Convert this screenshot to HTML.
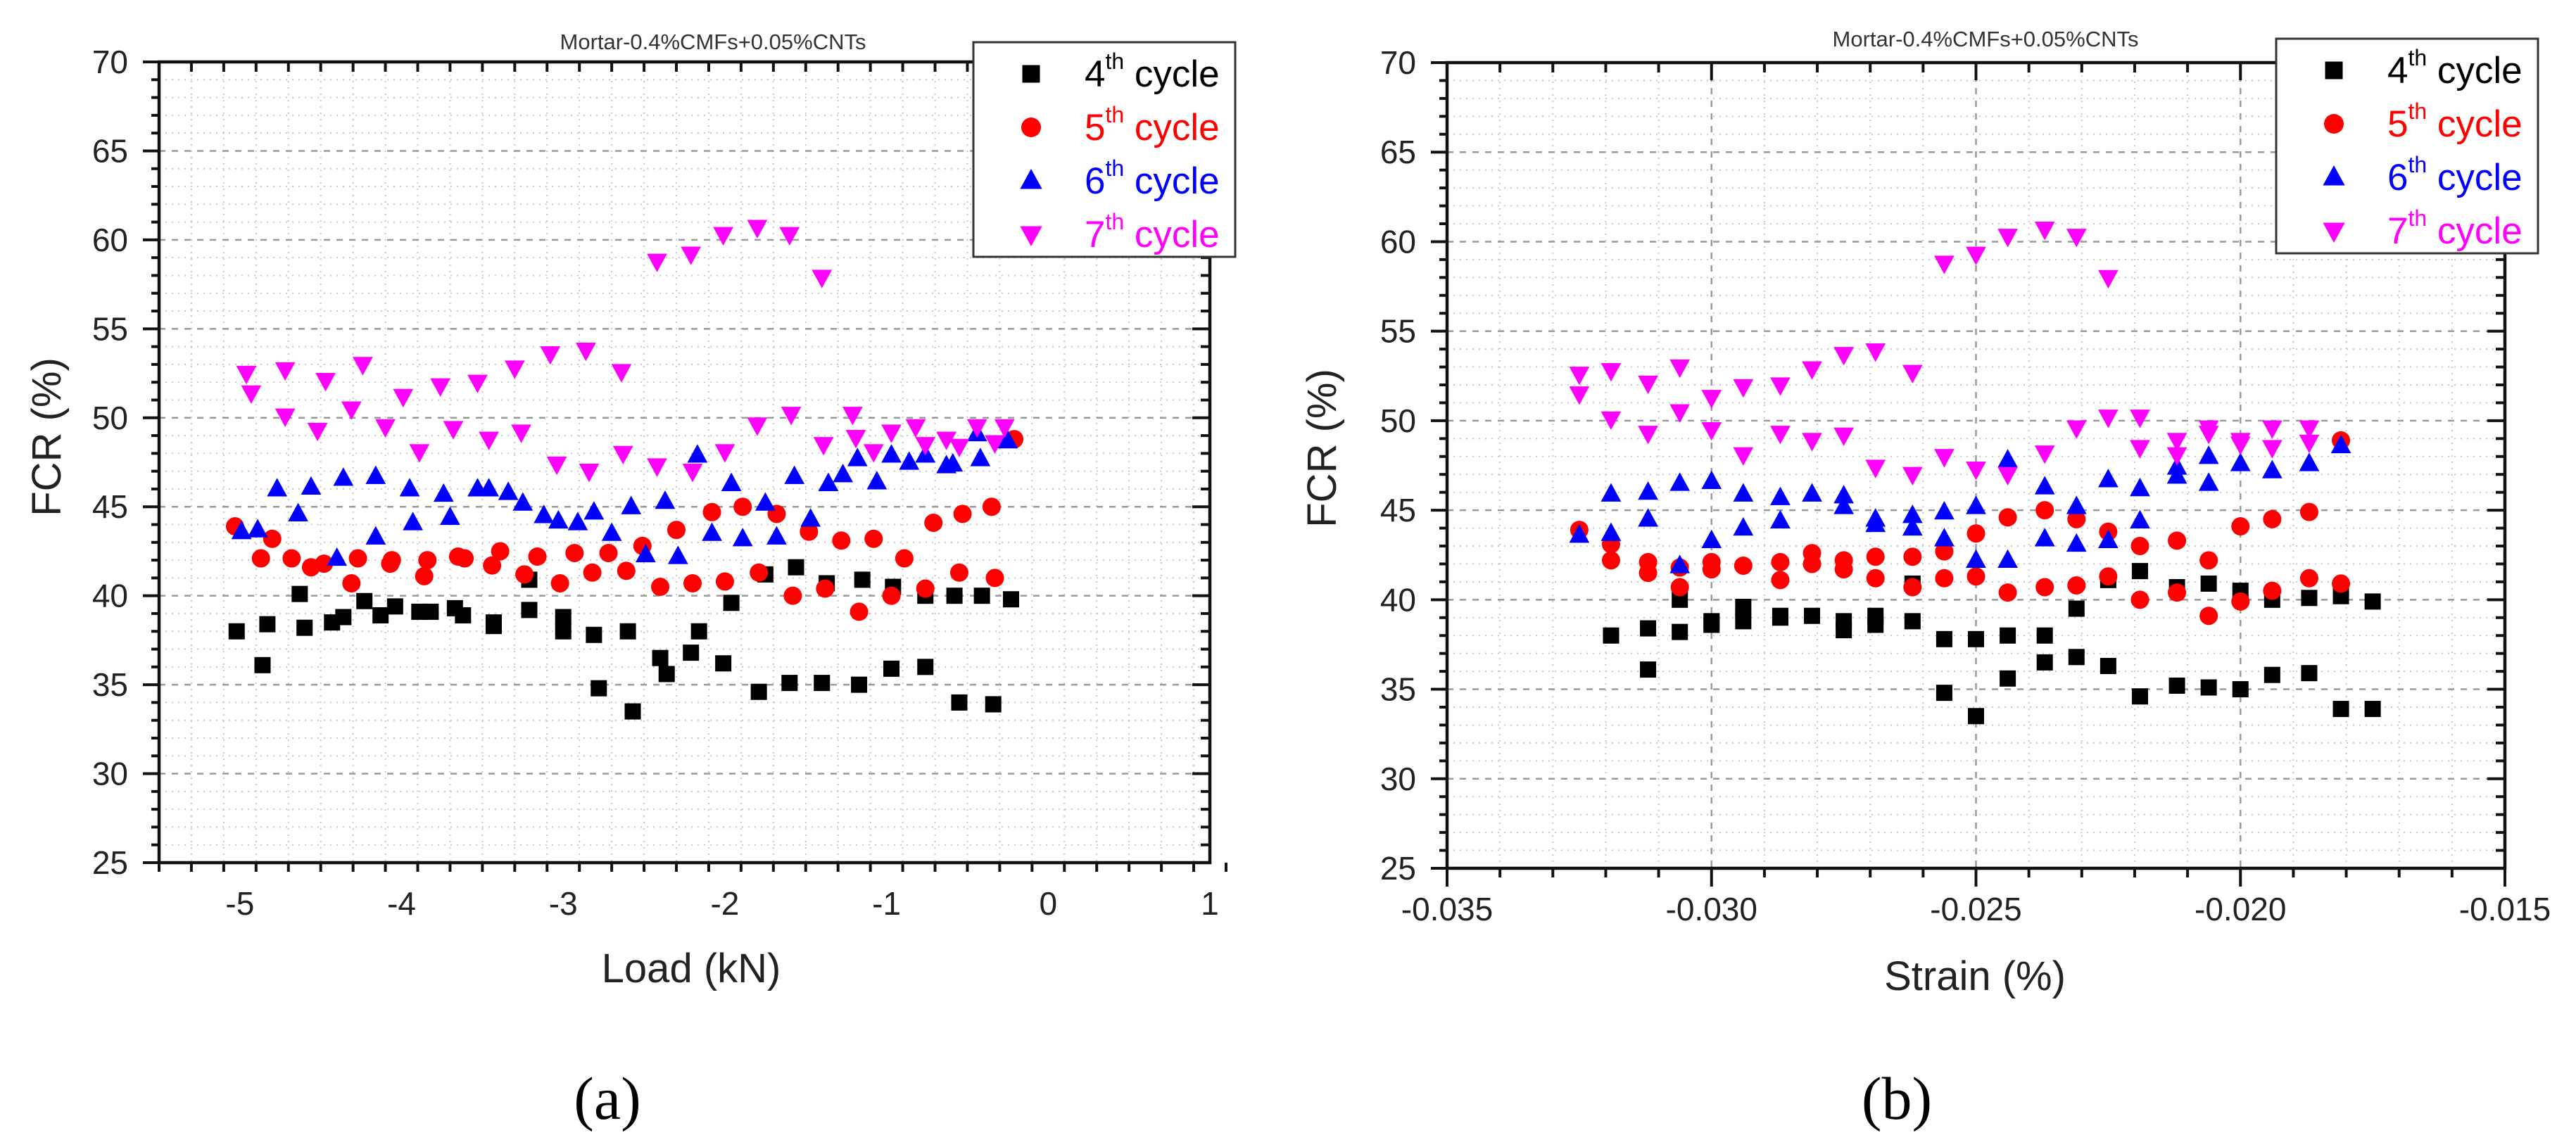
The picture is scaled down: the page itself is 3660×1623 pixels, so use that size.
<!DOCTYPE html>
<html><head><meta charset="utf-8">
<style>
html,body{margin:0;padding:0;background:#fff;}
svg{display:block;font-family:"Liberation Sans",sans-serif;}
</style></head>
<body>
<svg id="fig" width="3660" height="1623" viewBox="0 0 3660 1623" xmlns="http://www.w3.org/2000/svg">
<rect width="3660" height="1623" fill="#fff"/>
<g id="chartA"></g>
<g id="chartB"></g>
</svg>
<script>
// ---------- Chart (a): FCR vs Load ----------
const loadTicks = [-5, -4, -3, -2, -1, 0, 1];
const loadTickLabels = ["-5", "-4", "-3", "-2", "-1", "0", "1"];
const fcrTicks = [25, 30, 35, 40, 45, 50, 55, 60, 65, 70];
const fcrTickLabels = ["25", "30", "35", "40", "45", "50", "55", "60", "65", "70"];

const a4Load = [-5.02,-4.86,-4.83,-4.63,-4.60,-4.43,-4.36,-4.23,-4.13,-4.04,-3.89,-3.82,-3.67,-3.62,-3.43,-3.43,-3.21,-3.21,-3.00,-3.00,-2.81,-2.78,-2.60,-2.57,-2.40,-2.36,-2.21,-2.16,-2.01,-1.96,-1.79,-1.75,-1.60,-1.56,-1.40,-1.37,-1.17,-1.15,-0.97,-0.96,-0.76,-0.76,-0.58,-0.55,-0.41,-0.34,-0.23];
const a4Fcr = [38.0,36.1,38.4,40.1,38.2,38.5,38.8,39.7,38.9,39.4,39.1,39.1,39.3,38.9,38.5,38.3,39.2,40.9,38.8,38.0,37.8,34.8,38.0,33.5,36.5,35.6,36.8,38.0,36.2,39.6,34.6,41.2,35.1,41.6,35.1,40.7,35.0,40.9,35.9,40.5,36.0,40.0,40.0,34.0,40.0,33.9,39.8];
const a5Load = [-5.03,-4.87,-4.80,-4.68,-4.56,-4.48,-4.31,-4.27,-4.07,-4.06,-3.86,-3.84,-3.65,-3.61,-3.44,-3.39,-3.24,-3.16,-3.02,-2.93,-2.82,-2.72,-2.61,-2.51,-2.40,-2.30,-2.20,-2.08,-2.00,-1.89,-1.79,-1.68,-1.58,-1.48,-1.38,-1.28,-1.17,-1.08,-0.97,-0.89,-0.76,-0.71,-0.55,-0.53,-0.35,-0.33,-0.21];
const a5Fcr = [43.9,42.1,43.2,42.1,41.6,41.8,40.7,42.1,41.8,42.0,41.1,42.0,42.2,42.1,41.7,42.5,41.2,42.2,40.7,42.4,41.3,42.4,41.4,42.8,40.5,43.7,40.7,44.7,40.8,45.0,41.3,44.6,40.0,43.6,40.4,43.1,39.1,43.2,40.0,42.1,40.4,44.1,41.3,44.6,45.0,41.0,48.8];
const a6Load = [-4.99,-4.89,-4.77,-4.64,-4.56,-4.40,-4.36,-4.16,-4.16,-3.95,-3.93,-3.74,-3.70,-3.53,-3.46,-3.34,-3.25,-3.12,-3.03,-2.91,-2.81,-2.70,-2.58,-2.49,-2.37,-2.29,-2.17,-2.08,-1.96,-1.89,-1.75,-1.68,-1.57,-1.47,-1.36,-1.27,-1.18,-1.06,-0.97,-0.86,-0.76,-0.63,-0.59,-0.44,-0.42,-0.25];
const a6Fcr = [43.6,43.7,46.0,44.6,46.1,42.1,46.6,46.7,43.3,46.0,44.1,45.7,44.4,46.0,46.0,45.8,45.2,44.5,44.2,44.1,44.7,43.5,45.0,42.3,45.3,42.2,47.9,43.5,46.3,43.2,45.2,43.3,46.7,44.3,46.3,46.8,47.7,46.4,47.9,47.5,47.9,47.3,47.4,49.1,47.7,48.7];
const a7Load = [-4.96,-4.93,-4.72,-4.72,-4.52,-4.47,-4.31,-4.24,-4.10,-3.99,-3.89,-3.76,-3.68,-3.53,-3.46,-3.30,-3.26,-3.08,-3.04,-2.86,-2.84,-2.64,-2.63,-2.42,-2.42,-2.21,-2.20,-2.01,-2.00,-1.80,-1.80,-1.60,-1.59,-1.40,-1.39,-1.21,-1.19,-1.08,-0.97,-0.82,-0.76,-0.63,-0.55,-0.44,-0.33,-0.27];
const a7Fcr = [52.5,51.4,52.7,50.1,49.3,52.1,50.5,53.0,49.5,51.2,48.1,51.8,49.4,52.0,48.8,52.8,49.2,53.6,47.4,53.8,47.0,52.6,48.0,47.3,58.8,59.2,47.0,60.3,48.1,60.7,49.6,60.3,50.2,57.9,48.5,50.2,48.9,48.1,49.2,49.5,48.5,48.8,48.4,49.5,48.6,49.5];

// ---------- Chart (b): FCR vs Strain ----------
const strainTicks = [-0.035, -0.030, -0.025, -0.020, -0.015];
const strainTickLabels = ["-0.035", "-0.030", "-0.025", "-0.020", "-0.015"];
const strainCols = [-0.0325,-0.0319,-0.0312,-0.0306,-0.0300,-0.0294,-0.0287,-0.0281,-0.0275,-0.0269,-0.0262,-0.0256,-0.0250,-0.0244,-0.0237,-0.0231,-0.0225,-0.0219,-0.0212,-0.0206,-0.0200,-0.0194,-0.0187,-0.0181,-0.0175];
const b4Col = [1,2,2,3,3,4,4,5,5,6,6,7,8,8,9,9,10,10,11,11,12,12,13,13,14,14,15,15,16,16,17,17,18,18,19,19,20,20,21,21,22,22,23,23,24,24];
const b4Fcr = [38.0,38.4,36.1,40.0,38.2,38.6,38.8,39.6,38.8,39.1,39.0,39.1,38.8,38.3,39.1,38.6,38.8,40.9,37.8,34.8,37.8,33.5,38.0,35.6,38.0,36.5,39.5,36.8,41.1,36.3,41.6,34.6,40.7,35.2,40.9,35.1,40.5,35.0,40.0,35.8,40.1,35.9,40.2,33.9,39.9,33.9];
const b5Col = [0,1,1,2,2,3,3,4,4,5,6,6,7,7,8,8,9,9,10,10,11,11,12,12,13,13,14,14,15,15,16,16,17,17,18,18,19,19,20,20,21,21,22,22,23,23];
const b5Fcr = [43.9,43.1,42.2,42.1,41.5,40.7,41.8,42.1,41.7,41.9,42.1,41.1,42.6,42.0,42.2,41.7,42.4,41.2,42.4,40.7,42.7,41.2,43.7,41.3,44.6,40.4,45.0,40.7,44.5,40.8,43.8,41.3,43.0,40.0,43.3,40.4,42.2,39.1,44.1,39.9,44.5,40.5,44.9,41.2,48.9,40.9];
const b6Col = [0,1,1,2,2,3,3,4,4,5,5,6,6,7,8,8,9,9,10,10,11,11,12,12,13,13,14,14,15,15,16,16,17,17,18,18,19,19,20,21,22,23];
const b6Fcr = [43.6,45.9,43.7,46.0,44.5,46.5,41.9,46.6,43.3,45.9,44.0,45.7,44.4,45.9,45.8,45.2,44.5,44.2,44.7,44.0,44.9,43.4,45.2,42.2,47.8,42.2,46.3,43.4,45.2,43.1,46.7,43.3,46.2,44.4,47.4,46.9,48.0,46.5,47.6,47.2,47.6,48.6];
const b7Col = [0,0,1,1,2,2,3,3,4,4,5,5,6,6,7,7,8,8,9,9,10,10,11,11,12,12,13,13,14,14,15,15,16,16,17,17,18,18,19,19,20,20,21,21,22,22];
const b7Fcr = [52.6,51.5,52.8,50.1,52.1,49.3,53.0,50.5,51.3,49.5,51.9,48.1,52.0,49.3,52.9,48.9,53.7,49.2,53.9,47.4,52.7,47.0,58.8,48.0,59.3,47.3,60.3,47.0,60.7,48.2,60.3,49.6,58.0,50.2,50.2,48.5,48.9,48.1,49.6,49.3,48.9,48.7,49.6,48.5,49.6,48.8];

const seriesNames = ["4", "5", "6", "7"];
const seriesColors = ["#000000", "#ff0000", "#0000ff", "#ff00ff"];

const NS = "http://www.w3.org/2000/svg";
function mk(parent, tag, attrs, text) {
  const e = document.createElementNS(NS, tag);
  for (const k in attrs) e.setAttribute(k, attrs[k]);
  if (text !== undefined) e.textContent = text;
  parent.appendChild(e);
  return e;
}

function marker(g, kind, cx, cy, color, s) {
  let e;
  if (kind === 0) {
    e = mk(g, "rect", {x: cx - s/2, y: cy - s/2, width: s, height: s, fill: color});
  } else if (kind === 1) {
    e = mk(g, "circle", {cx: cx, cy: cy, r: s/2 + 1.5, fill: color});
  } else if (kind === 2) {
    const w = s*1.25, h = s*1.1;
    e = mk(g, "polygon", {points: `${cx},${cy-h*0.62} ${cx-w/2},${cy+h*0.42} ${cx+w/2},${cy+h*0.42}`, fill: color});
  } else {
    const w = s*1.25, h = s*1.1;
    e = mk(g, "polygon", {points: `${cx},${cy+h*0.62} ${cx-w/2},${cy-h*0.42} ${cx+w/2},${cy-h*0.42}`, fill: color});
  }
  return e;
}

function drawChart(cfg) {
  const g = document.getElementById(cfg.id);
  const L = cfg.left, R = cfg.right, T = cfg.top, B = cfg.bottom;
  const xs = v => L + (v - cfg.xmin) / (cfg.xmax - cfg.xmin) * (R - L);
  const ys = v => T + (cfg.ymax - v) / (cfg.ymax - cfg.ymin) * (B - T);

  const grid = mk(g, "g", {});
  
  
  const nMinX = Math.round((cfg.xmax - cfg.xmin) / cfg.xminor);
  for (let i = 1; i < nMinX; i++) {
    const v = cfg.xmin + i * cfg.xminor;
    const isMaj = Math.abs(v / cfg.xmajor - Math.round(v / cfg.xmajor)) < 1e-6;
    const px = xs(v);
    mk(grid, "line", {x1: px, x2: px, y1: T, y2: B, stroke: isMaj ? "#9a9a9a" : "#c8c8c8", "stroke-width": isMaj ? 2.5 : 2, "stroke-dasharray": isMaj ? "9,9" : "2,7"});
  }
  for (let v = cfg.ymin + 1; v < cfg.ymax; v++) {
    const isMaj = v % 5 === 0;
    const py = ys(v);
    mk(grid, "line", {x1: L, x2: R, y1: py, y2: py, stroke: isMaj ? "#9a9a9a" : "#c8c8c8", "stroke-width": isMaj ? 2.5 : 2, "stroke-dasharray": isMaj ? "9,9" : "2,7"});
  }

  const tk = mk(g, "g", {stroke: "#111", "stroke-width": 4});
  
  
  for (let i = 0; i <= nMinX; i++) {
    const v = cfg.xmin + i * cfg.xminor;
    const isMaj = Math.abs(v / cfg.xmajor - Math.round(v / cfg.xmajor)) < 1e-6;
    const px = xs(v);
    mk(tk, "line", {x1: px, x2: px, y1: B, y2: B + (isMaj ? 26 : 13)});
    mk(tk, "line", {x1: px, x2: px, y1: T, y2: T + (isMaj ? 25 : 14)});
  }
  for (let v = cfg.ymin; v <= cfg.ymax; v++) {
    const isMaj = v % 5 === 0;
    const py = ys(v);
    mk(tk, "line", {x1: L - (isMaj ? 23 : 11), x2: L, y1: py, y2: py});
    mk(tk, "line", {x1: R - (isMaj ? 25 : 13), x2: R, y1: py, y2: py});
  }

  const fr = mk(g, "rect", {x: L, y: T, width: R - L, height: B - T, fill: "none", stroke: "#111", "stroke-width": 4.5});
  
  

  const xl = mk(g, "g", {"font-size": 46, fill: "#222", "text-anchor": "middle"});
  
  
  cfg.xticks.forEach((v, i) => {
    const t = mk(xl, "text", {x: xs(v), y: B + 74}, cfg.xlabels[i]);
    
    
  });
  const yl = mk(g, "g", {"font-size": 46, fill: "#222", "text-anchor": "end"});
  
  
  fcrTicks.forEach((v, i) => {
    const t = mk(yl, "text", {x: L - 44, y: ys(v) + 16}, fcrTickLabels[i]);
    
    
  });

  const xt = mk(g, "text", {x: cfg.xtitleX, y: cfg.xtitleY, "font-size": 58, fill: "#222", "text-anchor": "middle"}, cfg.xtitle);
  
  
  const yt = mk(g, "text", {x: 0, y: 0, "font-size": 58, fill: "#222", "text-anchor": "middle", transform: `translate(${cfg.ytitleX},${cfg.ytitleY}) rotate(-90)`}, "FCR (%)");
  
  
  const ct = mk(g, "text", {x: cfg.titleX, y: cfg.titleY, "font-size": 31, fill: "#333", "text-anchor": "middle"}, "Mortar-0.4%CMFs+0.05%CNTs");
  
  
  const pl = mk(g, "text", {x: cfg.panelX, y: cfg.panelY, "font-size": 86, fill: "#000", "text-anchor": "middle", "font-family": "Liberation Serif, serif"}, cfg.panel);
  
  

  cfg.series.forEach((s, si) => {
    const sg = mk(g, "g", {});
    
    
    s.x.forEach((xv, j) => {
      const m = marker(sg, si, xs(xv), ys(s.y[j]), seriesColors[si], 23);
      
      
    });
  });

  const lg = mk(g, "g", {});
  
  
  const lb = mk(lg, "rect", {x: cfg.legX, y: cfg.legY, width: 372, height: 305, fill: "#fff", stroke: "#333", "stroke-width": 3});
  
  
  seriesNames.forEach((n, i) => {
    const cy = cfg.legY + 45 + i * 76;
    const eg = mk(lg, "g", {});
    
    
    marker(eg, i, cfg.legX + 82, cy, seriesColors[i], 25);
    const t = mk(eg, "text", {x: cfg.legX + 158, y: cy + 18, "font-size": 53, fill: seriesColors[i]});
    mk(t, "tspan", {}, n);
    mk(t, "tspan", {"font-size": 32, dy: -25}, "th");
    mk(t, "tspan", {dy: 25}, " cycle");
  });
}

drawChart({
  id: "chartA", left: 226, right: 1719, top: 88, bottom: 1226,
  xmin: -5.5, xmax: 1, ymin: 25, ymax: 70, xminor: 0.2, xmajor: 1,
  xticks: loadTicks, xlabels: loadTickLabels,
  xtitle: "Load (kN)", xtitleX: 982, xtitleY: 1396,
  ytitleX: 86, ytitleY: 621, titleX: 1013, titleY: 70,
  panel: "(a)", panelX: 863, panelY: 1590,
  legX: 1383, legY: 60,
  series: [{x: a4Load, y: a4Fcr}, {x: a5Load, y: a5Fcr}, {x: a6Load, y: a6Fcr}, {x: a7Load, y: a7Fcr}]
});

drawChart({
  id: "chartB", left: 2056, right: 3559, top: 89, bottom: 1234,
  xmin: -0.035, xmax: -0.015, ymin: 25, ymax: 70, xminor: 0.001, xmajor: 0.005,
  xticks: strainTicks, xlabels: strainTickLabels,
  xtitle: "Strain (%)", xtitleX: 2806, xtitleY: 1407,
  ytitleX: 1898, ytitleY: 637, titleX: 2821, titleY: 66,
  panel: "(b)", panelX: 2695, panelY: 1590,
  legX: 3234, legY: 55,
  series: [
    {x: b4Col.map(c => strainCols[c]), y: b4Fcr},
    {x: b5Col.map(c => strainCols[c]), y: b5Fcr},
    {x: b6Col.map(c => strainCols[c]), y: b6Fcr},
    {x: b7Col.map(c => strainCols[c]), y: b7Fcr}
  ]
});
</script>
</body></html>
